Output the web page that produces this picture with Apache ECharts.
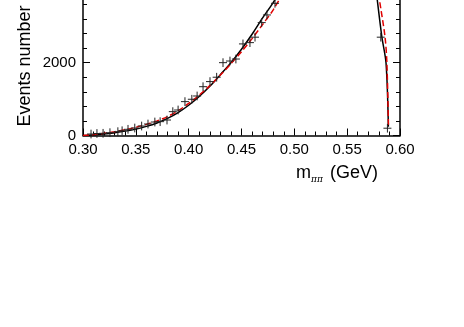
<!DOCTYPE html>
<html>
<head>
<meta charset="utf-8">
<script src="https://cdn.jsdelivr.net/npm/echarts@6/dist/echarts.min.js"></script>
<style>
  html, body { margin: 0; padding: 0; background: #fff; }
  #chart { width: 464px; height: 327px; }
</style>
</head>
<body>
<div id="chart"></div>
<script>
// measured points: [m_pipi (GeV), events, error]
var dataPoints = [
    [0.3076, 40, 120], [0.3132, 55, 120], [0.3190, 60, 120], [0.3255, 77, 120],
    [0.3330, 105, 120], [0.3370, 130, 120], [0.3426, 170, 120], [0.3490, 205, 120],
    [0.3555, 260, 120], [0.3615, 315, 120], [0.3680, 370, 120], [0.3730, 380, 120],
    [0.3795, 425, 120], [0.3850, 655, 120], [0.3900, 700, 120], [0.3965, 930, 120],
    [0.4030, 995, 120], [0.4080, 1085, 120], [0.4136, 1340, 120], [0.4202, 1480, 120],
    [0.4265, 1600, 120], [0.4325, 2000, 120], [0.4391, 2045, 120], [0.4447, 2100, 120],
    [0.4514, 2515, 120], [0.4580, 2550, 120], [0.4628, 2700, 120], [0.4691, 3100, 120],
    [0.4741, 3310, 120], [0.4817, 3630, 120],
    [0.5818, 2700, 120], [0.5881, 200, 120]
];

// fit curves (solid black, dashed red)
var fitSolid = [
    [0.300, 0], [0.310, 15], [0.320, 40], [0.330, 75], [0.340, 120], [0.350, 175],
    [0.360, 250], [0.370, 345], [0.380, 470], [0.390, 630], [0.400, 830], [0.410, 1070],
    [0.420, 1350], [0.430, 1670], [0.440, 2000], [0.450, 2370], [0.460, 2780],
    [0.470, 3230], [0.480, 3650], [0.500, 4600], [0.520, 5600], [0.540, 6400],
    [0.560, 6300], [0.570, 5500], [0.575, 4600], [0.5785, 3720], [0.5828, 2715],
    [0.5868, 1985], [0.5890, 240]
];
var fitDashed = [
    [0.300, 0], [0.310, 25], [0.320, 60], [0.330, 105], [0.340, 160], [0.350, 225],
    [0.360, 305], [0.370, 400], [0.380, 520], [0.390, 680], [0.400, 880], [0.410, 1110],
    [0.420, 1370], [0.430, 1660], [0.440, 1970], [0.450, 2300], [0.460, 2660],
    [0.470, 3050], [0.480, 3450], [0.500, 4450], [0.520, 5500], [0.540, 6350],
    [0.560, 6350], [0.570, 5650], [0.576, 4700], [0.5806, 3720], [0.5858, 2715],
    [0.5876, 1985], [0.5891, 240]
];

var xTicks = { min: 0.30, max: 0.60, step: 0.05 };
var yTicks = { min: 0, max: 6000, step: 2000 };

var myChart = echarts.init(document.getElementById('chart'));

var fontFam = '"Liberation Sans", Arial, sans-serif';
var tickStyle = { show: true, inside: true, length: 7, lineStyle: { color: '#000', width: 1 } };
var minorStyle = { show: true, splitNumber: 5, length: 4, lineStyle: { color: '#000', width: 1 } };

var option = {
    animation: false,
    backgroundColor: '#fff',
    // y = 0 sits at pixel 135.5, 1000 events = 36.4 px; top of frame is off the canvas
    grid: { left: 83, right: 64, top: -83, bottom: 191.5, containLabel: false, outerBoundsMode: 'none' },
    xAxis: [{
        type: 'value',
        min: xTicks.min, max: xTicks.max, interval: xTicks.step,
        axisLine: { onZero: false, lineStyle: { color: '#000', width: 1.5 } },
        axisTick: tickStyle,
        minorTick: minorStyle,
        splitLine: { show: false },
        axisLabel: {
            color: '#000', fontSize: 15, fontFamily: fontFam, margin: 7,
            formatter: function (v) { return v.toFixed(2); }
        }
    }],
    yAxis: [{
        type: 'value',
        min: yTicks.min, max: yTicks.max, interval: yTicks.step,
        axisLine: { show: true, lineStyle: { color: '#000', width: 1.5 } },
        axisTick: tickStyle,
        minorTick: minorStyle,
        splitLine: { show: false },
        axisLabel: {
            color: '#000', fontSize: 15, fontFamily: fontFam, margin: 7,
            formatter: function (v) { return String(v); }
        }
    }, {
        type: 'value',
        position: 'right',
        min: yTicks.min, max: yTicks.max, interval: yTicks.step,
        axisLine: { show: true, lineStyle: { color: '#000', width: 1.5 } },
        axisTick: tickStyle,
        minorTick: minorStyle,
        splitLine: { show: false },
        axisLabel: { show: false }
    }],
    graphic: [{
        type: 'text',
        x: 25, y: 66, rotation: Math.PI / 2,
        style: {
            text: 'Events number', font: '18px ' + fontFam, fill: '#000',
            align: 'center', verticalAlign: 'middle'
        }
    }, {
        type: 'text',
        x: 296, y: 164,
        style: { text: 'm', font: '18px ' + fontFam, fill: '#000' }
    }, {
        type: 'text',
        x: 311, y: 175,
        style: { text: 'ππ', font: 'italic 9px "DejaVu Serif", serif', fill: '#000' }
    }, {
        type: 'text',
        x: 330, y: 164,
        style: { text: '(GeV)', font: '18px ' + fontFam, fill: '#000' }
    }],
    series: [{
        name: 'fit',
        type: 'line',
        data: fitSolid,
        smooth: 0.3,
        showSymbol: false,
        lineStyle: { color: '#000', width: 1.5 },
        z: 3
    }, {
        name: 'fit2',
        type: 'line',
        data: fitDashed,
        smooth: 0.3,
        showSymbol: false,
        lineStyle: { color: '#e00000', width: 1.5, type: [6, 3] },
        z: 4
    }, {
        name: 'data',
        type: 'custom',
        data: dataPoints,
        z: 5,
        renderItem: function (params, api) {
            var m = api.value(0), v = api.value(1), e = api.value(2);
            var c = api.coord([m, v]);
            var lo = api.coord([m, v - e]);
            var hi = api.coord([m, v + e]);
            var hw = 4;
            var st = { stroke: '#222', lineWidth: 1 };
            return {
                type: 'group',
                children: [
                    { type: 'line', shape: { x1: c[0] - hw, y1: c[1], x2: c[0] + hw, y2: c[1] }, style: st },
                    { type: 'line', shape: { x1: c[0], y1: lo[1], x2: c[0], y2: hi[1] }, style: st }
                ]
            };
        }
    }]
};
myChart.setOption(option);
</script>
</body>
</html>
